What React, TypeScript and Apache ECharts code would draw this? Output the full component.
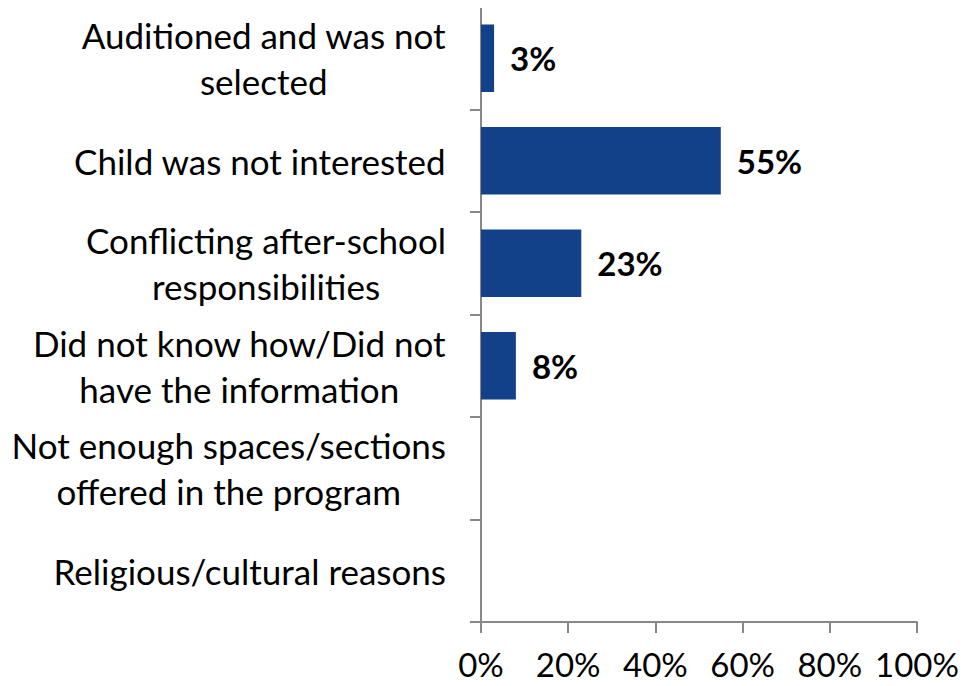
import React, { useEffect, useRef } from "react";
import * as echarts from "echarts";

const categories = [
  "Auditioned and was not\nselected",
  "Child was not interested",
  "Conflicting after-school\nresponsibilities",
  "Did not know how/Did not\nhave the information",
  "Not enough spaces/sections\noffered in the program",
  "Religious/cultural reasons",
];
const values = [3, 55, 23, 8, null, null];
const xTicks = [0, 20, 40, 60, 80, 100];

const FONT = "Lato";

export default function App() {
  const ref = useRef<HTMLDivElement>(null);
  useEffect(() => {
    if (!ref.current) return;
    const chart = echarts.init(ref.current, null, { renderer: "svg" });
    chart.setOption({
      animation: false,
      backgroundColor: "#ffffff",
      grid: { left: 481, right: 61, top: 7, bottom: 64, containLabel: false },
      xAxis: {
        type: "value",
        min: xTicks[0],
        max: xTicks[xTicks.length - 1],
        interval: 20,
        axisLine: { show: true, lineStyle: { color: "#888888", width: 2 } },
        axisTick: { show: true, length: 11, lineStyle: { color: "#888888", width: 2 } },
        splitLine: { show: false },
        axisLabel: {
          formatter: "{value}%",
          color: "#000000",
          fontFamily: FONT,
          fontSize: 33,
          margin: 25,
        },
      },
      yAxis: {
        type: "category",
        data: categories,
        inverse: true,
        axisLine: { show: true, lineStyle: { color: "#888888", width: 2 } },
        axisTick: { show: true, length: 11, lineStyle: { color: "#888888", width: 2 } },
        axisLabel: {
          color: "#000000",
          fontFamily: FONT,
          fontSize: 35,
          margin: 35,
          lineHeight: 46,
          formatter: (v: string) =>
            v
              .split("\n")
              .map((l) => "{c|" + l + "}")
              .join("\n"),
          rich: {
            c: {
              align: "center",
              fontFamily: FONT,
              fontSize: 35,
              lineHeight: 46,
              color: "#000000",
            },
          },
        },
      },
      series: [
        {
          type: "bar",
          data: values,
          barWidth: "66%",
          itemStyle: { color: "#12418A" },
          label: {
            show: true,
            position: "right",
            distance: 16,
            formatter: "{c}%",
            color: "#000000",
            fontWeight: "bold",
            fontFamily: FONT,
            fontSize: 33,
          },
        },
      ],
    });
    return () => chart.dispose();
  }, []);
  return <div ref={ref} style={{ width: 978, height: 686, margin: -8 }} />;
}
